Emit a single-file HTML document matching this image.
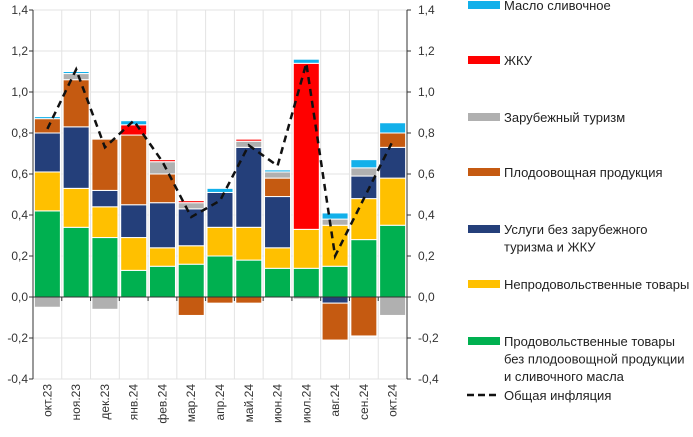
<!DOCTYPE html>
<html><head><meta charset="utf-8"><style>
body{margin:0;background:#fff;width:693px;height:432px;overflow:hidden}
svg{font-family:"Liberation Sans","DejaVu Sans",sans-serif}
</style></head><body>
<svg id="chart" width="693" height="432" viewBox="0 0 693 432"></svg>
<script>
const categories=["окт.23","ноя.23","дек.23","янв.24","фев.24","мар.24","апр.24","май.24","июн.24","июл.24","авг.24","сен.24","окт.24"];
const food=[0.42,0.34,0.29,0.13,0.15,0.16,0.20,0.18,0.14,0.14,0.15,0.28,0.35];
const nonfood=[0.19,0.19,0.15,0.16,0.09,0.09,0.14,0.16,0.10,0.19,0.20,0.20,0.23];
const services=[0.19,0.30,0.08,0.16,0.22,0.18,0.17,0.39,0.25,0,-0.03,0.11,0.15];
const fruitveg=[0.07,0.23,0.25,0.34,0.14,-0.09,-0.03,-0.03,0.09,0,-0.18,-0.19,0.07];
const tourism=[-0.05,0.03,-0.06,0,0.06,0.03,0,0.03,0.03,-0.01,0.03,0.04,-0.09];
const housing=[0,0,0,0.05,0.01,0.01,0,0.01,0,0.81,0,0,0];
const butter=[0.01,0.01,0,0.02,0,0,0.02,0,0.01,0.02,0.03,0.04,0.05];
const inflation=[0.82,1.11,0.73,0.86,0.66,0.39,0.47,0.74,0.64,1.14,0.20,0.48,0.76];
const yTicks=[1.4,1.2,1.0,0.8,0.6,0.4,0.2,0,-0.2,-0.4];
const series=[
 {name:"food",vals:food,color:"#00b050"},
 {name:"nonfood",vals:nonfood,color:"#ffc000"},
 {name:"services",vals:services,color:"#243f7a"},
 {name:"fruitveg",vals:fruitveg,color:"#c55a11"},
 {name:"tourism",vals:tourism,color:"#b0b0b0"},
 {name:"housing",vals:housing,color:"#ff0000"},
 {name:"butter",vals:butter,color:"#12b0ea"}];
const NS="http://www.w3.org/2000/svg";
const svg=document.getElementById("chart");
const X0=33,X1=407,Y0=10,Y1=379,vmax=1.4,vmin=-0.4;
const y=v=>Y0+(vmax-v)/(vmax-vmin)*(Y1-Y0);
const step=(X1-X0)/categories.length;
const xc=i=>X0+step*(i+0.5);
const bw=26;
function el(t,a,p){const e=document.createElementNS(NS,t);for(const k in a)e.setAttribute(k,a[k]);(p||svg).appendChild(e);return e;}
// grid
const grid=el("g",{});


yTicks.forEach(t=>{el("line",{x1:X0,x2:X1,y1:y(t),y2:y(t),stroke:"#e3e3e3","stroke-width":1},grid);});
for(let i=0;i<=categories.length;i++){el("line",{x1:X0+step*i,x2:X0+step*i,y1:Y0,y2:Y1,stroke:"#e3e3e3","stroke-width":1},grid);}
// bars
const bars=el("g",{});


categories.forEach((c,i)=>{
 let pos=0,neg=0;
 series.forEach(s=>{
  const v=s.vals[i]; if(!v) return;
  let a,b;
  if(v>0){a=pos;b=pos+v;pos=b;}else{a=neg+v;b=neg;neg=a;}
  const r=el("rect",{x:xc(i)-bw/2,y:y(b),width:bw,height:Math.max(0.5,y(a)-y(b)),fill:s.color,stroke:"#fff","stroke-width":1},bars);
  
  
 });
});
// axes
const ax=el("g",{stroke:"#333","stroke-width":1});


el("line",{x1:X0,x2:X0,y1:Y0,y2:Y1},ax);
el("line",{x1:X1,x2:X1,y1:Y0,y2:Y1},ax);
el("line",{x1:X0,x2:X1,y1:y(0),y2:y(0)},ax);
for(let i=0;i<=categories.length;i++){el("line",{x1:X0+step*i,x2:X0+step*i,y1:y(0),y2:y(0)+4},ax);}
yTicks.forEach(t=>{
 el("line",{x1:X0-4,x2:X0,y1:y(t),y2:y(t)},ax);
 el("line",{x1:X1,x2:X1+4,y1:y(t),y2:y(t)},ax);
 const lab=t.toFixed(1).replace(".",",");
 const l=el("text",{x:28,y:y(t)+4,"text-anchor":"end","font-size":12,fill:"#333"});l.textContent=lab;
 
 
 const r=el("text",{x:418,y:y(t)+4,"font-size":12,fill:"#333"});r.textContent=lab;
 
 
});
categories.forEach((c,i)=>{
 const t=el("text",{x:0,y:0,"text-anchor":"end","font-size":12,fill:"#333",transform:`translate(${xc(i)+4},384) rotate(-90)`});
 t.textContent=c;
 
 
});
// line
const pts=inflation.map((v,i)=>xc(i)+","+y(v)).join(" ");
const pl=el("polyline",{points:pts,fill:"none",stroke:"#111","stroke-width":2.5,"stroke-dasharray":"7,5"});


// legend
const leg=[["#12b0ea",["Масло сливочное"],5],["#ff0000",["ЖКУ"],60],["#b0b0b0",["Зарубежный туризм"],117],["#c55a11",["Плодоовощная продукция"],172],["#243f7a",["Услуги без зарубежного","туризма и ЖКУ"],229],["#ffc000",["Непродовольственные товары"],284],["#00b050",["Продовольственные товары","без плодоовощной продукции","и сливочного масла"],341]];
leg.forEach(([col,lines,ly])=>{
 const g=el("g",{});
 
 
 el("rect",{x:468,y:ly-4,width:32,height:8,fill:col},g);
 lines.forEach((ln,k)=>{const t=el("text",{x:504,y:ly+5+k*17.5,"font-size":13,fill:"#222"},g);t.textContent=ln;});
});
const lg=el("g",{});


el("line",{x1:467,x2:499,y1:395,y2:395,stroke:"#111","stroke-width":2.5,"stroke-dasharray":"7,4"},lg);
const lt=el("text",{x:504,y:400,"font-size":13,fill:"#222"},lg);lt.textContent="Общая инфляция";
</script>
</body></html>
